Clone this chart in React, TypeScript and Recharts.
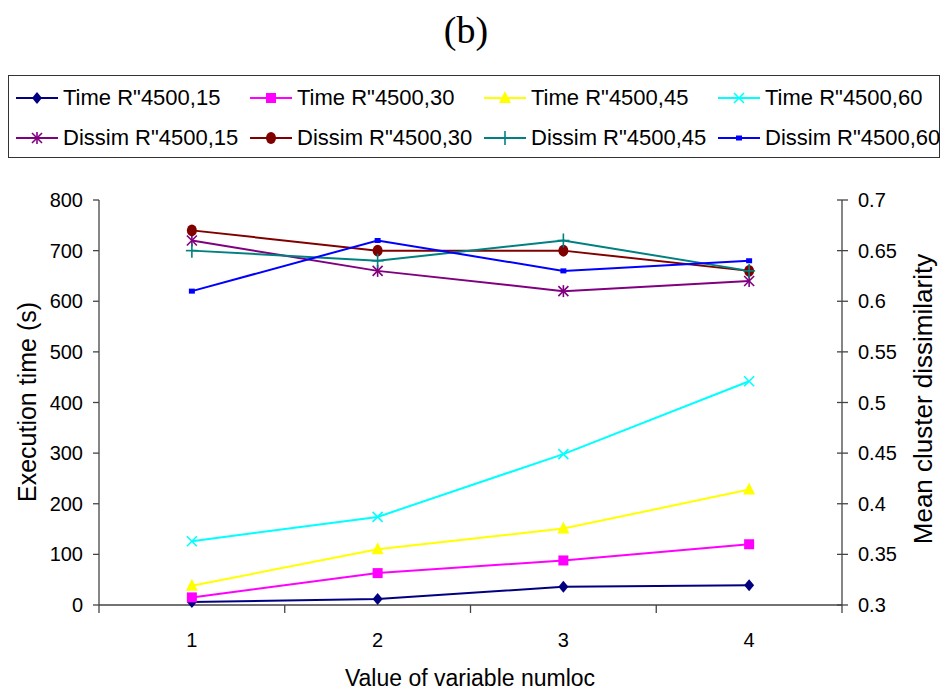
import { LineChart, Line, XAxis, YAxis } from "recharts";

const numloc = [1, 2, 3, 4];

// execution time (s), left axis
const time15 = [6, 12, 36, 39];
const time30 = [15, 63, 88, 120];
const time45 = [38, 110, 151, 228];
const time60 = [126, 174, 298, 442];

// mean cluster dissimilarity, right axis
const dissim15 = [0.66, 0.63, 0.61, 0.62];
const dissim30 = [0.67, 0.65, 0.65, 0.63];
const dissim45 = [0.65, 0.64, 0.66, 0.63];
const dissim60 = [0.61, 0.66, 0.63, 0.64];

const leftTicks = [0, 100, 200, 300, 400, 500, 600, 700, 800];
const rightTicks = [0.3, 0.35, 0.4, 0.45, 0.5, 0.55, 0.6, 0.65, 0.7];
// labels sit on whole numbers, tick marks between them
const xTicks = [0.5, 1, 1.5, 2, 2.5, 3, 3.5, 4, 4.5];

const series = [
  { key: "t15", name: 'Time R"4500,15', values: time15, color: "#000080", marker: "diamond", axis: "left" },
  { key: "t30", name: 'Time R"4500,30', values: time30, color: "#FF00FF", marker: "square", axis: "left" },
  { key: "t45", name: 'Time R"4500,45', values: time45, color: "#FFFF00", marker: "triangle", axis: "left" },
  { key: "t60", name: 'Time R"4500,60', values: time60, color: "#00FFFF", marker: "cross", axis: "left" },
  { key: "d15", name: 'Dissim R"4500,15', values: dissim15, color: "#800080", marker: "star", axis: "right" },
  { key: "d30", name: 'Dissim R"4500,30', values: dissim30, color: "#800000", marker: "circle", axis: "right" },
  { key: "d45", name: 'Dissim R"4500,45', values: dissim45, color: "#008080", marker: "plus", axis: "right" },
  { key: "d60", name: 'Dissim R"4500,60', values: dissim60, color: "#0000FF", marker: "dash", axis: "right" },
];

const data = numloc.map((n, i) => {
  const row: Record<string, number> = { x: n };
  series.forEach((s) => {
    row[s.key] = s.values[i];
  });
  return row;
});

const FONT = "'Liberation Sans', Arial, sans-serif";

const marker = (kind: string, color: string, cx: number, cy: number, key?: any) => {
  switch (kind) {
    case "diamond":
      return <polygon key={key} points={`${cx},${cy - 6} ${cx + 5},${cy} ${cx},${cy + 6} ${cx - 5},${cy}`} fill={color} />;
    case "square":
      return <rect key={key} x={cx - 5} y={cy - 5} width={10} height={10} fill={color} />;
    case "triangle":
      return <polygon key={key} points={`${cx},${cy - 7} ${cx + 6},${cy + 5} ${cx - 6},${cy + 5}`} fill={color} />;
    case "cross":
      return (
        <g key={key} stroke={color} strokeWidth={1.6}>
          <line x1={cx - 5} y1={cy - 5} x2={cx + 5} y2={cy + 5} />
          <line x1={cx - 5} y1={cy + 5} x2={cx + 5} y2={cy - 5} />
        </g>
      );
    case "star":
      return (
        <g key={key} stroke={color} strokeWidth={1.6}>
          <line x1={cx - 5} y1={cy - 5} x2={cx + 5} y2={cy + 5} />
          <line x1={cx - 5} y1={cy + 5} x2={cx + 5} y2={cy - 5} />
          <line x1={cx} y1={cy - 6} x2={cx} y2={cy + 6} />
        </g>
      );
    case "circle":
      return <ellipse key={key} cx={cx} cy={cy} rx={5} ry={6} fill={color} />;
    case "plus":
      return (
        <g key={key} stroke={color} strokeWidth={1.6}>
          <line x1={cx - 6} y1={cy} x2={cx + 6} y2={cy} />
          <line x1={cx} y1={cy - 7} x2={cx} y2={cy + 7} />
        </g>
      );
    default:
      return <rect key={key} x={cx - 3} y={cy - 2.5} width={6} height={5} fill={color} />;
  }
};

const XTick = (props: any) => {
  const { x, y, payload } = props;
  const v = payload.value;
  if (Number.isInteger(v)) {
    return (
      <text x={x} y={y + 35} textAnchor="middle" dominantBaseline="central" fontSize={20} fontFamily={FONT} fill="#000">
        {v}
      </text>
    );
  }
  return <line x1={x} y1={y} x2={x} y2={y + 8} stroke="#444" strokeWidth={1.3} />;
};

const RightTick = (props: any) => {
  const { x, y, payload } = props;
  return (
    <g>
      <line x1={x - 5} y1={y} x2={x + 6} y2={y} stroke="#444" strokeWidth={1.3} />
      <text x={x + 16} y={y} textAnchor="start" dominantBaseline="central" fontSize={20} fontFamily={FONT} fill="#000">
        {String(payload.value)}
      </text>
    </g>
  );
};

const Legend = () => (
  <div
    style={{
      position: "absolute",
      left: 8,
      top: 75,
      width: 930,
      height: 81,
      border: "1.5px solid #333",
      fontFamily: FONT,
      fontSize: 22,
    }}
  >
    {series.map((s, i) => {
      const col = i % 4;
      const row = Math.floor(i / 4);
      return (
        <div
          key={s.key}
          style={{
            position: "absolute",
            left: 6 + col * 234,
            top: 10 + row * 40,
            height: 24,
            display: "flex",
            alignItems: "center",
            whiteSpace: "nowrap",
          }}
        >
          <svg width={48} height={20} style={{ flex: "none" }}>
            <line x1={1} y1={10} x2={43} y2={10} stroke={s.color} strokeWidth={2} />
            {marker(s.marker, s.color, 22, 10)}
          </svg>
          <span style={{ lineHeight: "24px" }}>{s.name}</span>
        </div>
      );
    })}
  </div>
);

export default function App() {
  return (
    <div style={{ position: "absolute", left: 0, top: 0, width: 946, height: 694, background: "#fff" }}>
      <div
        style={{
          position: "absolute",
          left: 0,
          top: 8,
          width: 932,
          textAlign: "center",
          fontFamily: "'Liberation Serif', 'Times New Roman', serif",
          fontSize: 38,
          lineHeight: "44px",
        }}
      >
        (b)
      </div>
      <Legend />
      <LineChart
        width={946}
        height={694}
        data={data}
        margin={{ top: 200, right: 44, bottom: 49, left: 39 }}
        style={{ position: "absolute", left: 0, top: 0 }}
      >
        <XAxis
          dataKey="x"
          type="number"
          domain={[0.5, 4.5]}
          ticks={xTicks}
          interval={0}
          height={40}
          tickSize={0}
          tickMargin={0}
          tickLine={false}
          tick={<XTick />}
          stroke="#444"
          strokeWidth={1.3}
          label={{
            content: () => (
              <text x={470} y={678} textAnchor="middle" dominantBaseline="central" fontSize={23} fontFamily={FONT} fill="#000">
                Value of variable numloc
              </text>
            ),
          }}
        />
        <YAxis
          yAxisId="left"
          domain={[0, 800]}
          ticks={leftTicks}
          interval={0}
          width={60}
          tickSize={6}
          tickMargin={10}
          stroke="#444"
          strokeWidth={1.3}
          tick={{ fontSize: 20, fontFamily: FONT, fill: "#000" }}
          label={{
            content: () => (
              <text
                x={27}
                y={402}
                transform="rotate(-90 27 402)"
                textAnchor="middle"
                dominantBaseline="central"
                fontSize={25}
                fontFamily={FONT}
                fill="#000"
              >
                Execution time (s)
              </text>
            ),
          }}
        />
        <YAxis
          yAxisId="right"
          orientation="right"
          domain={[0.3, 0.7]}
          ticks={rightTicks}
          interval={0}
          width={60}
          tickSize={0}
          tickMargin={0}
          tickLine={false}
          tick={<RightTick />}
          stroke="#444"
          strokeWidth={1.3}
          label={{
            content: () => (
              <text
                x={923}
                y={399}
                transform="rotate(-90 923 399)"
                textAnchor="middle"
                dominantBaseline="central"
                fontSize={26}
                fontFamily={FONT}
                fill="#000"
              >
                Mean cluster dissimilarity
              </text>
            ),
          }}
        />
        {series.map((s) => (
          <Line
            key={s.key}
            yAxisId={s.axis}
            dataKey={s.key}
            name={s.name}
            stroke={s.color}
            strokeWidth={2}
            type="linear"
            isAnimationActive={false}
            activeDot={false}
            dot={(p: any) => marker(s.marker, s.color, p.cx, p.cy, `${s.key}-${p.index}`)}
          />
        ))}
      </LineChart>
    </div>
  );
}
